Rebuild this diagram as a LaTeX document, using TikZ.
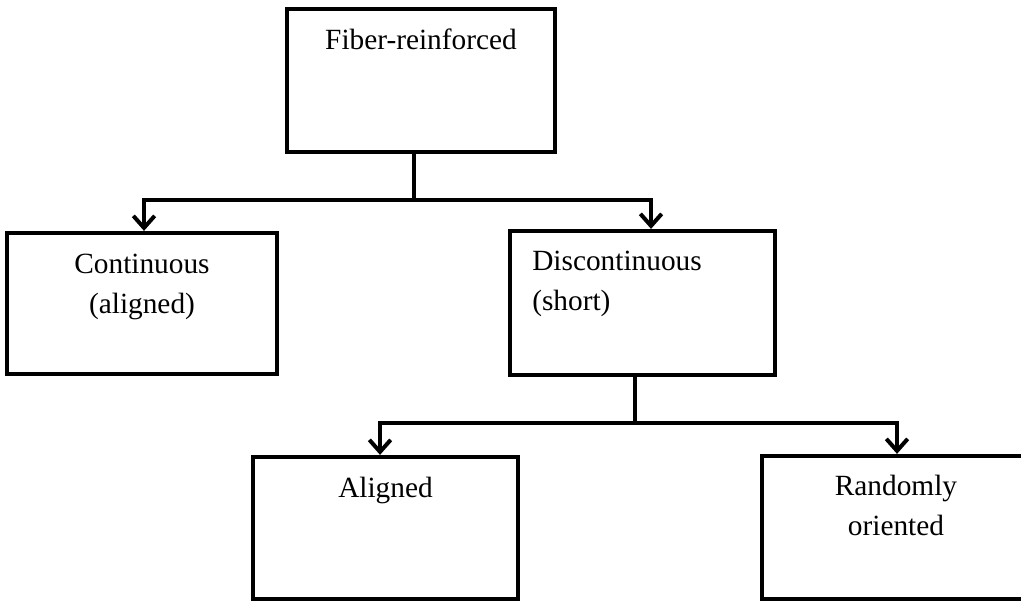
\documentclass[tikz,border=0pt]{standalone}
\usepackage{fontspec}
\setmainfont{Liberation Serif}
\usetikzlibrary{arrows.meta}
\tikzset{
  box/.style={draw=black, line width=3.2pt, rectangle, inner sep=0pt, anchor=center},
  lbl/.style={inner sep=0pt, font=\fontsize{22}{30}\selectfont},
  conn/.style={draw=black, line width=3pt},
  arr/.style={conn, -{Straight Barb[length=9pt,width=16pt,line width=3pt]}}
}
\begin{document}
\begin{tikzpicture}[x=0.75pt,y=-0.75pt]
\clip (0,0) rectangle (1021,603);
\fill[white] (0,0) rectangle (1021,603);
% boxes
\node[box, minimum width=201pt, minimum height=107.25pt] (b1) at (421,80.5) {};
\node[box, minimum width=202.5pt, minimum height=105.75pt] (b2) at (142,303.5) {};
\node[box, minimum width=198.75pt, minimum height=108pt] (b3) at (642.5,303) {};
\node[box, minimum width=198.75pt, minimum height=106.5pt] (b4) at (385.5,528) {};
\node[box, minimum width=201pt, minimum height=107.25pt] (b5) at (896,527.5) {};
% labels (base anchor = baseline of the last line)
\node[lbl, anchor=base] (t1) at (421,49) {Fiber-reinforced};
\node[lbl, anchor=base, align=center] (t2) at (142,313) {Continuous\\(aligned)};
\node[lbl, anchor=base west, align=left] (t3) at (532,310) {Discontinuous\\(short)};
\node[lbl, anchor=base] (t4) at (385.5,497) {Aligned};
\node[lbl, anchor=base, align=center] (t5) at (896,535) {Randomly\\oriented};
% connectors
\coordinate (j1) at (414,200);
\coordinate (j2) at (635,423);
\draw[conn] (j1 |- b1.south) -- (j1);
\draw[arr] (j1) -| ([xshift=1.5pt]b2.north);
\draw[arr] (j1) -| ([xshift=6.4pt]b3.north);
\draw[conn] (j2 |- b3.south) -- (j2);
\draw[arr] (j2) -| ([xshift=-4.1pt]b4.north);
\draw[arr] (j2) -| ([xshift=0.75pt]b5.north);
\end{tikzpicture}
\end{document}
